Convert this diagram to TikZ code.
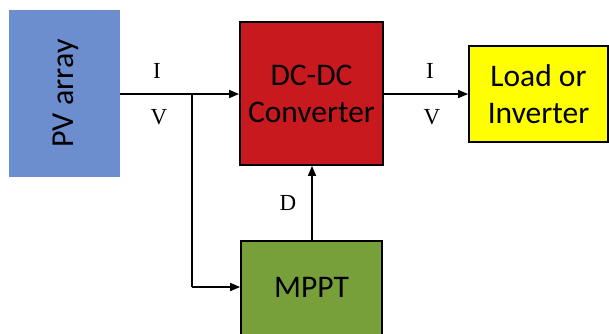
\documentclass[tikz,border=0pt]{standalone}
\usepackage{fontspec}
\setmainfont{Liberation Serif}
\newfontfamily\boxfont{Carlito}
\usetikzlibrary{arrows.meta}
\definecolor{pvblue}{RGB}{108,142,206}
\definecolor{dcred}{RGB}{200,26,30}
\definecolor{ldyellow}{RGB}{255,255,0}
\definecolor{mpgreen}{RGB}{119,160,59}
\begin{document}
\begin{tikzpicture}[x=1pt,y=-1pt,
  blk/.style={draw=black,line width=1.8pt,inner sep=0pt,align=center,
    font=\boxfont\fontsize{31.5}{37}\selectfont},
  conn/.style={line width=1.6pt,-{Triangle[length=10pt,width=8pt]}},
  lbl/.style={font=\fontsize{23}{26}\selectfont}]
\useasboundingbox (0,0) rectangle (609,333);
\begin{scope}
\clip (0,0) rectangle (609,333);
\node[fill=pvblue,minimum width=111pt,minimum height=167pt,inner sep=0pt] (pv) at (64.5,93.5) {};
\node[rotate=90,font=\boxfont\fontsize{32}{37}\selectfont] (pvt) at (66,93.5) {PV array};
\node[blk,fill=dcred,minimum width=143pt,minimum height=143pt] (dc) at (311.5,93.5) {DC-DC\\Converter};
\node[blk,fill=ldyellow,minimum width=139pt,minimum height=96pt] (ld) at (538.5,94) {Load or\\Inverter};
\node[blk,fill=mpgreen,minimum width=141pt,minimum height=120pt] (mp) at (311.5,301) {};
\node[font=\boxfont\fontsize{31.5}{37}\selectfont] (mpt) at (311.5,287) {MPPT};
\end{scope}
\coordinate (j) at (192,94);
\coordinate (jb) at (192,287);
\draw[conn] (pv.east |- j) -- (dc.west |- j);
\draw[line width=1.6pt] (j) -- (jb);
\draw[conn] (jb) -- (mp.west |- jb);
\draw[conn] (dc.east |- j) -- (ld.west |- j);
\draw[conn] (mp.north -| 312,0) -- (dc.south -| 312,0);
\node[lbl] (i1) at (157,71) {I};
\node[lbl] (v1) at (159,117) {V};
\node[lbl] (i2) at (430,71) {I};
\node[lbl] (v2) at (432,117) {V};
\node[lbl] (d) at (288,203) {D};
\end{tikzpicture}
\end{document}
